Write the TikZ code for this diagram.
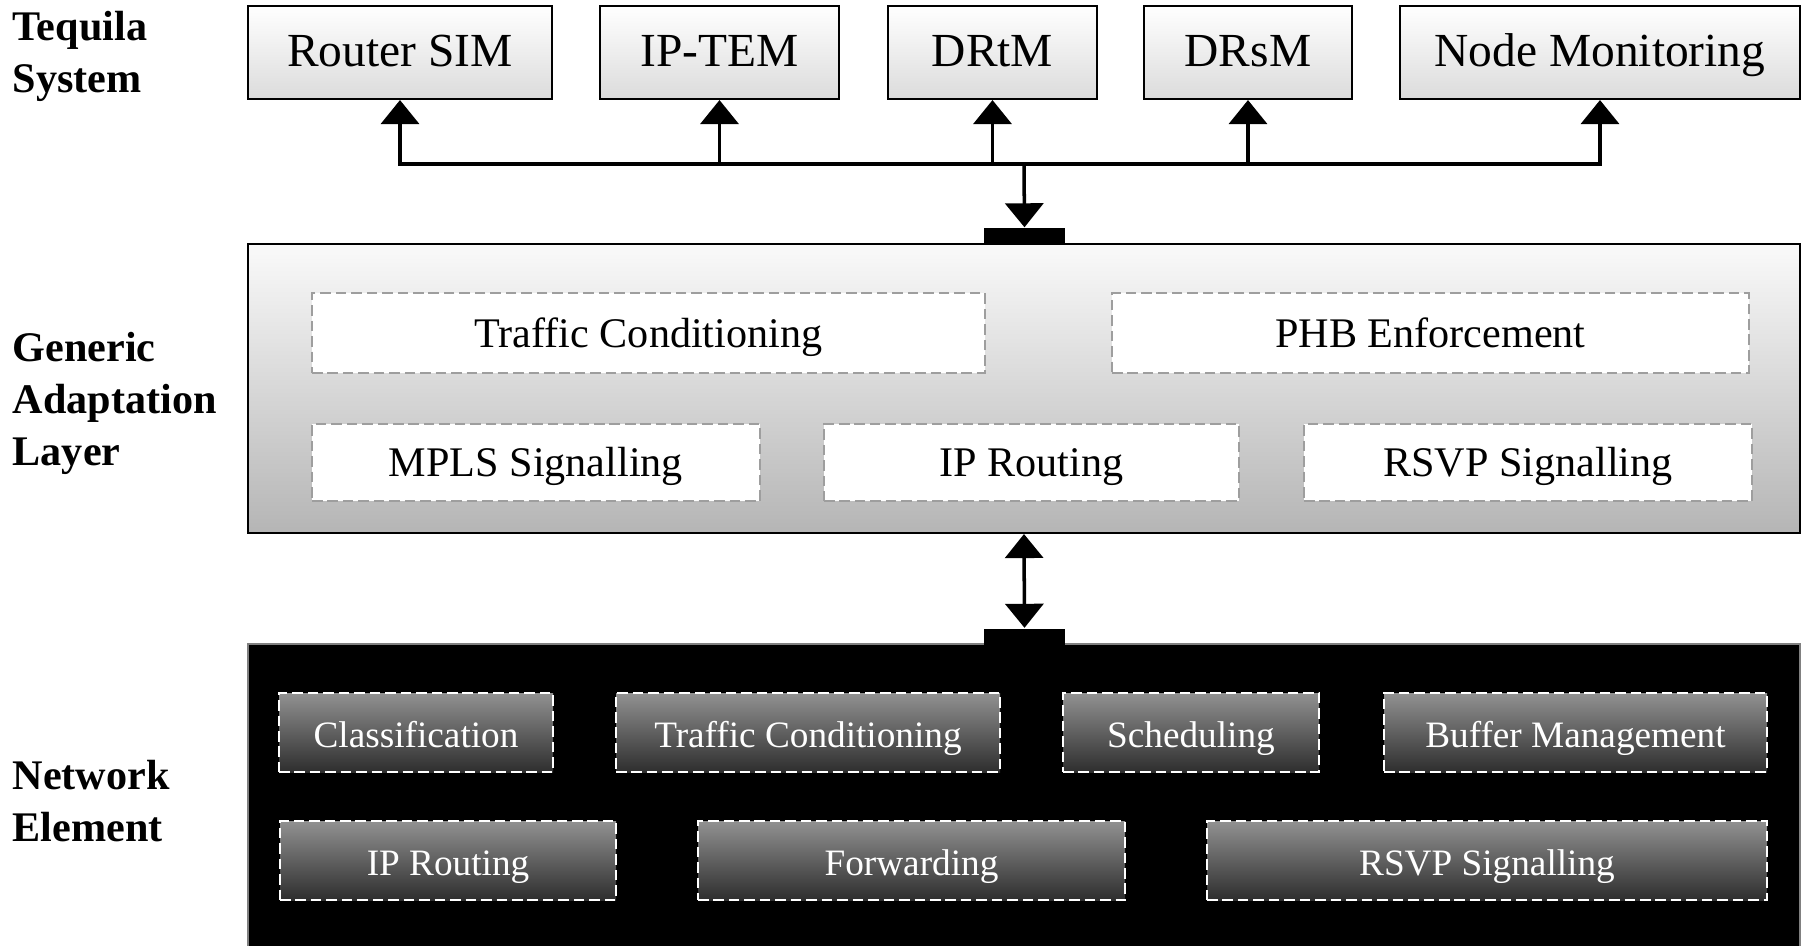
\documentclass[tikz,border=0pt]{standalone}
\usepackage{fontspec}
\setmainfont{Liberation Serif}
\usetikzlibrary{arrows.meta}
\tikzset{
  sysbox/.style={draw=black, line width=0.6pt, top color=white, bottom color=black!14, font=\fontsize{13.5}{16}\selectfont, text height=1em, text depth=0.2em, minimum height=9.3mm, inner sep=0pt},
  galbox/.style={draw=black, line width=0.6pt, top color=black!2, bottom color=black!29, minimum width=155.2mm, minimum height=28.9mm, inner sep=0pt},
  galpart/.style={draw=black!38, fill=white, line width=0.6pt, dash pattern=on 3pt off 1.4pt, font=\fontsize{12}{14}\selectfont, text height=1em, text depth=0.2em, inner sep=0pt},
  nebox/.style={draw=black!50, fill=black, line width=0.6pt, minimum width=155.2mm, minimum height=31.6mm, inner sep=0pt},
  nepart/.style={draw=white, text=white, line width=0.6pt, dash pattern=on 3pt off 1.4pt, top color=black!43, bottom color=black!82, font=\fontsize{10.6}{13}\selectfont, text height=1.05em, text depth=0.2em, minimum height=7.9mm, inner sep=0pt},
  layer/.style={font=\fontsize{12}{14.8}\selectfont\bfseries, align=left, anchor=west, inner sep=0pt},
  bar/.style={fill=black, minimum width=8.1mm, minimum height=1.6mm, inner sep=0pt},
  link/.style={draw=black, line width=1pt},
  arrow/.style={link, -{Triangle[width=3.8mm, length=2.4mm]}},
  twoway/.style={link, {Triangle[width=3.8mm, length=2.4mm]}-{Triangle[width=3.8mm, length=2.4mm]}}
}
\begin{document}
\begin{tikzpicture}[x=0.1mm, y=-0.1mm]
  \useasboundingbox (0,0) rectangle (1810,946);
  \node[layer] (tsys) at (12,56) {Tequila\\System};
  \node[layer] (glay) at (12,403) {Generic\\Adaptation\\Layer};
  \node[layer] (nelm) at (12,801) {Network\\Element};

  \node[sysbox, minimum width=30.4mm] (rsim) at (400,52.5) {Router SIM};
  \node[sysbox, minimum width=23.9mm] (iptem) at (719.5,52.5) {IP-TEM};
  \node[sysbox, minimum width=20.9mm] (drtm) at (992.5,52.5) {DRtM};
  \node[sysbox, minimum width=20.8mm] (drsm) at (1248,52.5) {DRsM};
  \node[sysbox, minimum width=40mm] (nmon) at (1600,52.5) {Node Monitoring};

  \node[galbox] (gal) at (1024,388.5) {};
  \node[galpart, minimum width=67.3mm, minimum height=8mm] (gtc) at (648.5,333) {Traffic Conditioning};
  \node[galpart, minimum width=63.7mm, minimum height=8mm] (gphb) at (1430.5,333) {PHB Enforcement};
  \node[galpart, minimum width=44.8mm, minimum height=7.7mm] (gmpls) at (536,462.5) {MPLS Signalling};
  \node[galpart, minimum width=41.5mm, minimum height=7.7mm] (gip) at (1031.5,462.5) {IP Routing};
  \node[galpart, minimum width=44.8mm, minimum height=7.7mm] (grsvp) at (1528,462.5) {RSVP Signalling};

  \node[nebox] (ne) at (1024,802) {};
  \node[nepart, minimum width=27.4mm] (ncls) at (416,732.5) {Classification};
  \node[nepart, minimum width=38.4mm] (ntc) at (808,732.5) {Traffic Conditioning};
  \node[nepart, minimum width=25.6mm] (nsch) at (1191,732.5) {Scheduling};
  \node[nepart, minimum width=38.3mm] (nbuf) at (1575.5,732.5) {Buffer Management};
  \node[nepart, minimum width=33.6mm] (nip) at (448,860.5) {IP Routing};
  \node[nepart, minimum width=42.7mm] (nfwd) at (911.5,860.5) {Forwarding};
  \node[nepart, minimum width=56mm] (nrsvp) at (1487,860.5) {RSVP Signalling};

  \node[bar] (bara) at (1024.5,236) {};
  \node[bar] (barb) at (1024.5,636.5) {};
  \coordinate (hub) at (1024,164);

  \draw[twoway] (rsim.south) -- (rsim.south |- hub) -- (nmon.south |- hub) -- (nmon.south);
  \draw[arrow] (iptem.south |- hub) -- (iptem.south);
  \draw[arrow] (drtm.south |- hub) -- (drtm.south);
  \draw[arrow] (drsm.south |- hub) -- (drsm.south);
  \draw[arrow] (hub) -- (bara.north);
  \draw[twoway] (gal.south) -- (barb.north);
\end{tikzpicture}
\end{document}
